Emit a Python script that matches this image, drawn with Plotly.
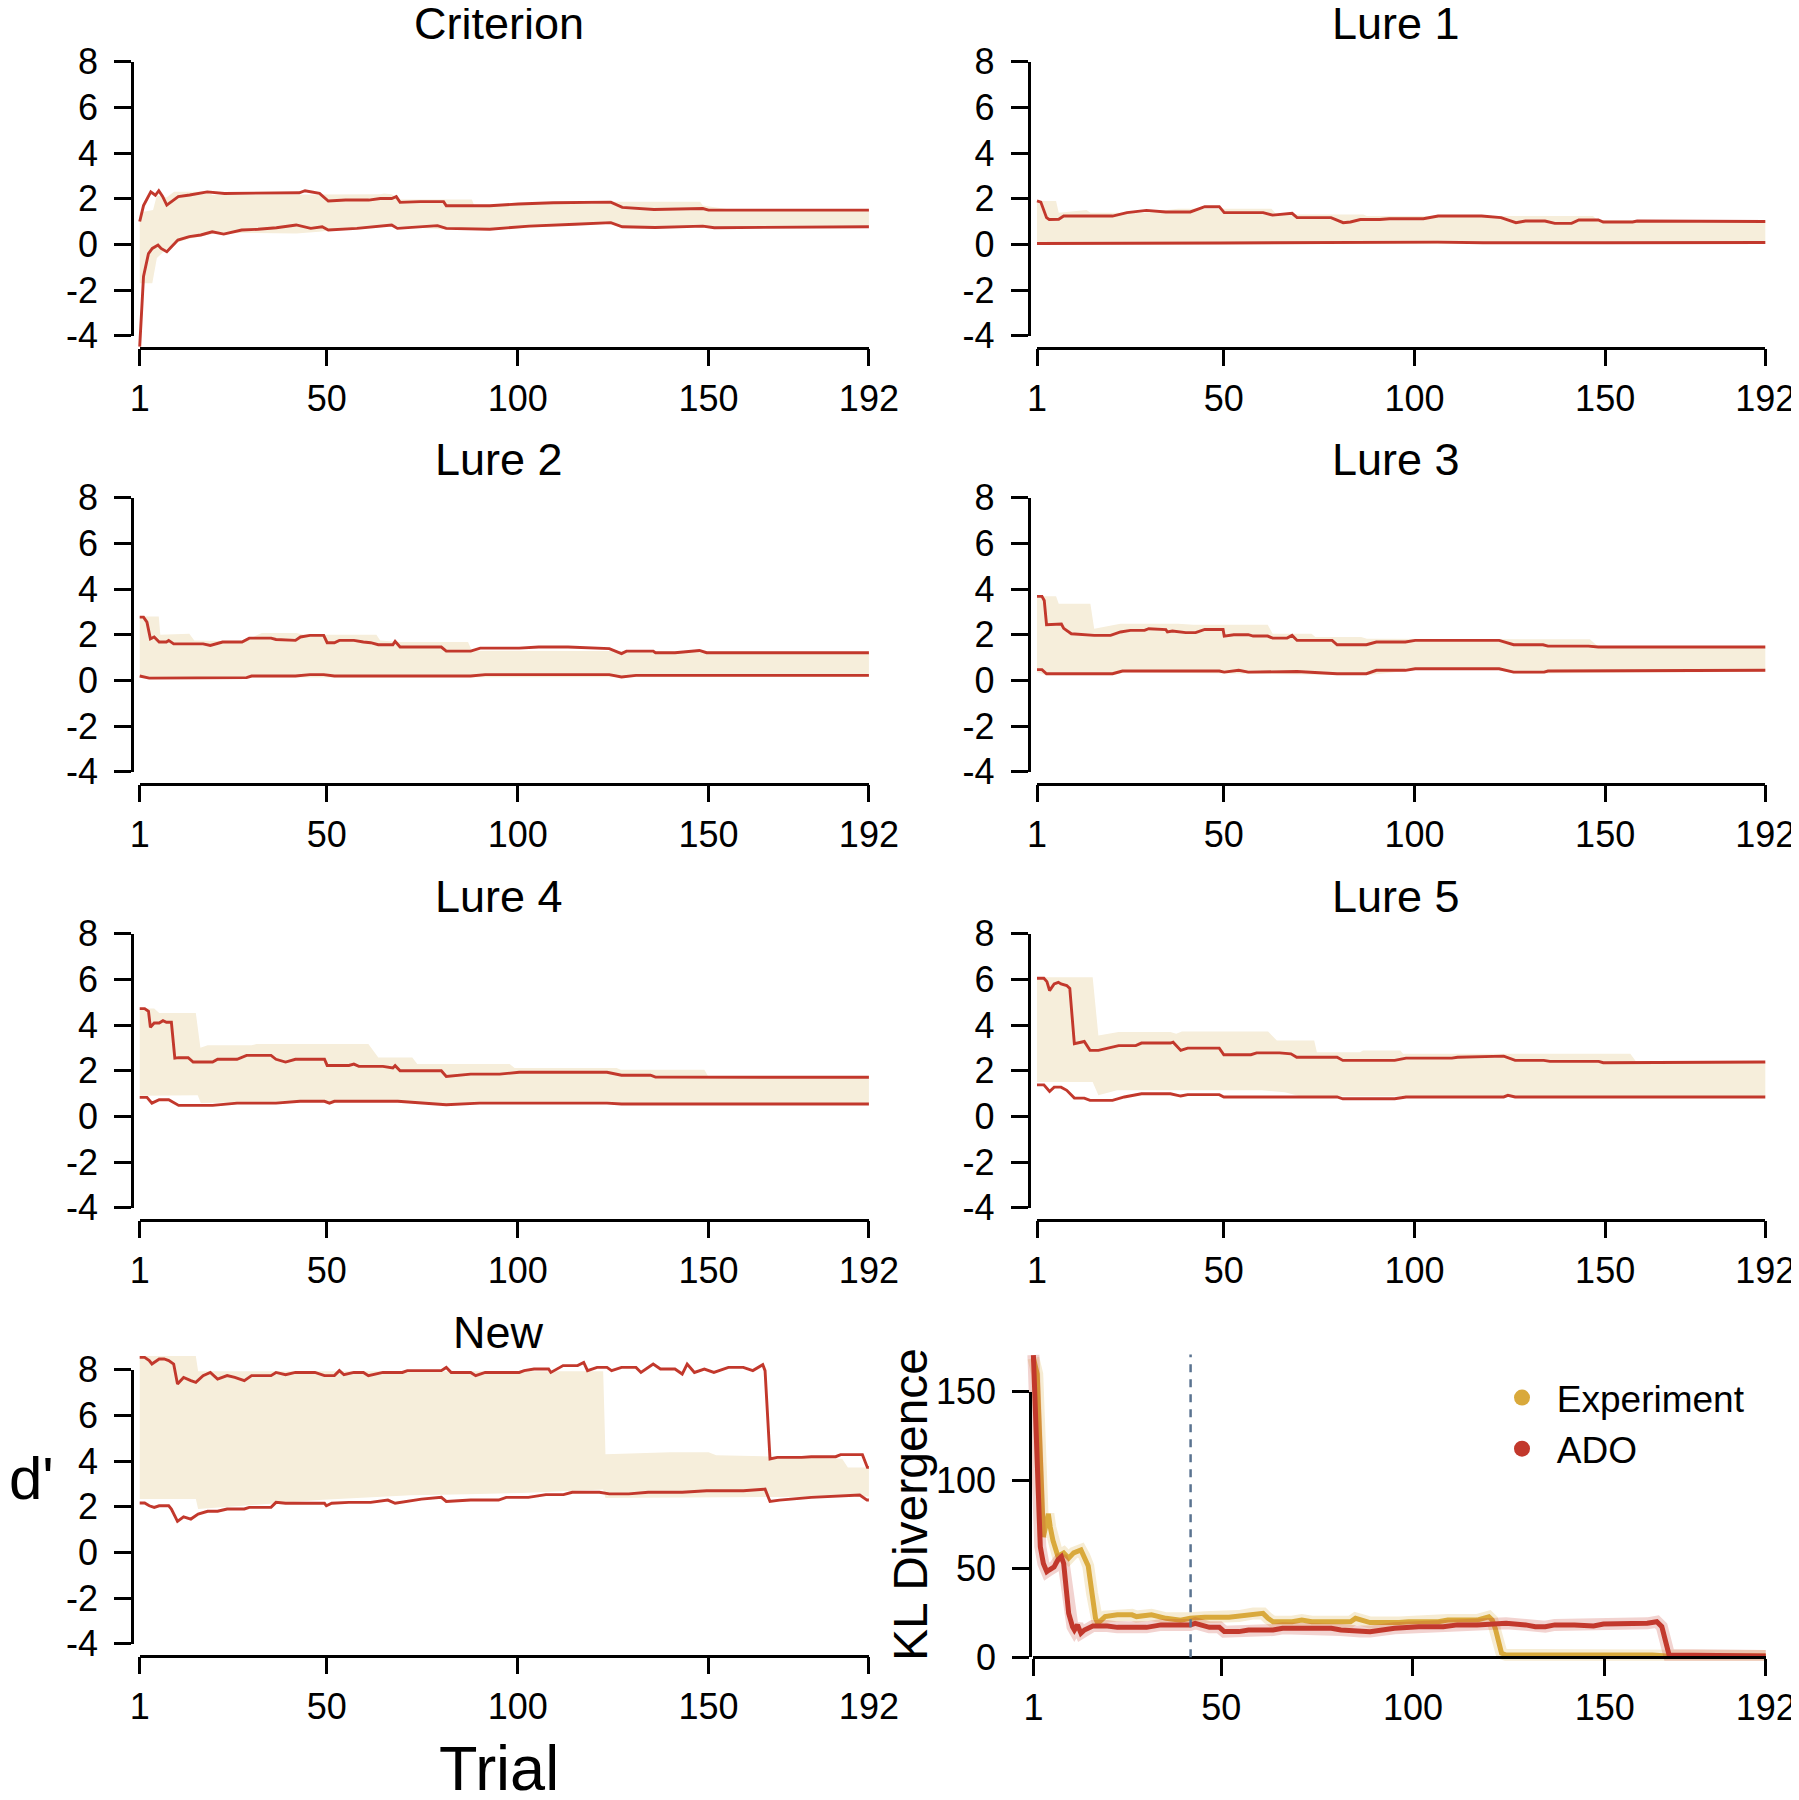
import plotly.graph_objects as go

# page body has an 8px margin: figure is sized to fill the rest of the 1799x1800 window
OFF = 8
W, H = 1799 - OFF, 1800 - OFF
RED = '#C2382C'
BEIGE = '#F6EEDB'
GOLD = '#D9A93B'
DASHC = '#5A7390'
FONT = 'Liberation Sans, Arial, Helvetica, sans-serif'

TRIAL_TICKS = [1, 50, 100, 150, 192]
DPRIME_TICKS = [-4, -2, 0, 2, 4, 6, 8]
KL_TICKS = [0, 50, 100, 150]
PANEL_TITLES = ['Criterion', 'Lure 1', 'Lure 2', 'Lure 3', 'Lure 4', 'Lure 5', 'New']
LEGEND_NAMES = ['Experiment', 'ADO']
KL_DASH_TRIAL = 42

# ---- (trial, d') readings: ADO interval (red lines), Experiment interval (band) ----
CRIT_ADO_HI = [(1, 1.0), (2, 1.7), (3.9, 2.3), (5.1, 2.15), (6, 2.35), (7, 2.1), (8.1, 1.72), (9.5, 1.9), (11.1, 2.09),
               (14.1, 2.16), (18.7, 2.3), (23.2, 2.23), (26.2, 2.23), (29.2, 2.26), (35, 2.25), (42.8, 2.26), (44.3, 2.35),
               (48.1, 2.23), (50.4, 1.9), (54.9, 1.94), (61, 1.94), (64, 2.01), (67, 2.01), (68.2, 2.09), (69.2, 1.84),
               (74.5, 1.87), (80.6, 1.87), (81.3, 1.69), (92.7, 1.69), (100.2, 1.77), (109.3, 1.82), (124.4, 1.85),
               (127.4, 1.62), (135.7, 1.53), (148.5, 1.57), (150, 1.5), (192, 1.5)]
CRIT_ADO_LO = [(1, -4.48), (2, -1.4), (3.3, -0.4), (4.3, -0.18), (5.8, -0.03), (6.6, -0.18), (8.1, -0.32), (11, 0.19),
               (14, 0.34), (17, 0.41), (20, 0.55), (23, 0.45), (27.7, 0.63), (32, 0.66), (36.8, 0.73), (42, 0.85),
               (45.8, 0.7), (48.8, 0.77), (50.4, 0.63), (57.9, 0.7), (67, 0.85), (68.5, 0.7), (79, 0.82), (81.3, 0.7),
               (92.7, 0.66), (103, 0.8), (115, 0.88), (124.4, 0.95), (127.4, 0.77), (136, 0.74), (148.5, 0.8),
               (151.5, 0.73), (192, 0.77)]
CRIT_EXP_HI = [(1, 1.4), (4.5, 1.5), (5.5, 2.15), (8, 2.05), (10, 2.3), (19, 2.3), (20, 2.16), (48, 2.16), (50.4, 2.19),
               (64, 2.19), (65, 2.23), (67, 2.2), (69, 1.97), (88, 1.97), (88.6, 1.72), (124.4, 1.8), (125, 1.87),
               (147.8, 1.87), (148.5, 1.7), (156, 1.52), (192, 1.5)]
CRIT_EXP_LO = [(1, -1.7), (4.3, -1.7), (5.5, -0.6), (8, -0.2), (11, 0.1), (14, 0.25), (20, 0.45), (27, 0.5), (36, 0.5),
               (42, 0.48), (48, 0.55), (50, 0.6), (67, 0.8), (81, 0.65), (92, 0.62), (115, 0.85), (124, 0.9),
               (127, 0.75), (192, 0.75)]

L1_ADO_HI = [(1, 1.9), (2, 1.85), (3.5, 1.17), (4.2, 1.09), (6.7, 1.1), (8, 1.24), (20.8, 1.24), (24.6, 1.39), (29.7, 1.49),
             (34.8, 1.42), (41.2, 1.42), (45, 1.65), (48.8, 1.65), (50.1, 1.39), (60.3, 1.39), (62.8, 1.28), (67.9, 1.36),
             (69.2, 1.17), (78.1, 1.17), (81.3, 0.95), (83.2, 0.98), (85.8, 1.09), (90.9, 1.09), (93.4, 1.12),
             (102.3, 1.12), (106.2, 1.24), (117.6, 1.24), (122.7, 1.17), (126.6, 0.95), (129.1, 1.02), (134.2, 1.02),
             (136.8, 0.92), (141.2, 0.92), (143.1, 1.07), (148.2, 1.07), (149.5, 0.98), (157.2, 0.98), (158.4, 1.02),
             (192, 1.0)]
L1_ADO_LO = [(1, 0.04), (45, 0.08), (49, 0.06), (106, 0.1), (118, 0.07), (150, 0.07), (192, 0.08)]
L1_EXP_HI = [(1, 1.9), (6, 1.9), (6.7, 1.39), (14, 1.5), (15, 1.39), (29, 1.39), (38, 1.56), (62.5, 1.56), (63.8, 1.31),
             (86.6, 1.31), (87.5, 1.24), (146.8, 1.24), (148, 1.07), (192, 1.02)]
L1_EXP_LO = [(1, 0.0), (192, 0.02)]

L2_ADO_HI = [(1, 2.77), (2, 2.77), (2.9, 2.55), (3.8, 1.82), (4.8, 1.9), (6.1, 1.68), (8, 1.68), (8.6, 1.75), (9.9, 1.6),
             (17.6, 1.6), (19.5, 1.53), (22.7, 1.68), (27.8, 1.68), (29.7, 1.85), (35.4, 1.85), (36.7, 1.79),
             (41.8, 1.75), (43.1, 1.9), (45.6, 1.97), (49.2, 1.97), (50.1, 1.65), (52, 1.65), (53.3, 1.75), (57.1, 1.75),
             (59.6, 1.68), (61.5, 1.65), (63.5, 1.56), (67.3, 1.56), (67.9, 1.71), (69.2, 1.46), (80, 1.46),
             (81.3, 1.28), (87.7, 1.28), (90.2, 1.41), (100.4, 1.41), (105.5, 1.46), (113.2, 1.46), (120.8, 1.39),
             (124, 1.39), (127.2, 1.17), (128.5, 1.28), (135.5, 1.28), (136.1, 1.21), (141.2, 1.21), (147.6, 1.31),
             (149.5, 1.21), (192, 1.21)]
L2_ADO_LO = [(1, 0.19), (3.5, 0.1), (29, 0.12), (30.3, 0.19), (41.8, 0.19), (45.6, 0.25), (49.2, 0.25), (52, 0.19),
             (87.7, 0.19), (91.5, 0.25), (124, 0.25), (127.2, 0.15), (131, 0.22), (192, 0.22)]
L2_EXP_HI = [(1, 2.8), (6, 2.8), (6.4, 2.0), (14, 2.04), (15.3, 1.75), (28, 1.7), (33, 2.07), (42, 2.07), (44, 2.0),
             (63, 2.0), (64, 1.75), (69.2, 1.68), (87, 1.68), (88, 1.3), (192, 1.25)]
L2_EXP_LO = [(1, 0.12), (192, 0.15)]

L3_ADO_HI = [(1, 3.68), (2.3, 3.68), (2.9, 3.5), (3.5, 2.44), (7.4, 2.47), (8, 2.28), (10, 2.04), (16, 1.97),
             (20.3, 1.97), (22.9, 2.12), (25.5, 2.19), (29.2, 2.19), (30.3, 2.26), (34.8, 2.22), (35.2, 2.12),
             (36.5, 2.16), (40, 2.09), (42.6, 2.09), (45, 2.23), (49.8, 2.23), (50.1, 1.94), (52.6, 2.0), (56.4, 2.0),
             (57.7, 1.94), (61.5, 1.94), (62.8, 1.85), (66.6, 1.85), (67.9, 1.97), (69.2, 1.75), (78.4, 1.75),
             (79.7, 1.56), (87.4, 1.56), (90, 1.68), (97.6, 1.68), (100.2, 1.75), (122.2, 1.75), (126, 1.56),
             (133.7, 1.56), (135, 1.5), (145.6, 1.5), (148.2, 1.46), (192, 1.46)]
L3_ADO_LO = [(1, 0.47), (2.3, 0.47), (3.5, 0.29), (20.8, 0.29), (23.4, 0.41), (48.8, 0.41), (50.1, 0.36), (53.9, 0.44),
             (56.4, 0.36), (67.9, 0.36), (69.2, 0.39), (79.7, 0.29), (87.4, 0.29), (90, 0.44), (97.6, 0.44),
             (100.2, 0.51), (122.2, 0.51), (126, 0.36), (134, 0.36), (135, 0.41), (147, 0.41), (148.2, 0.44), (192, 0.44)]
L3_EXP_HI = [(1, 3.68), (6, 3.68), (6.7, 3.36), (15, 3.36), (16, 2.26), (18, 2.33), (22.9, 2.48), (38, 2.48), (42, 2.44),
             (61.5, 2.44), (62.8, 2.04), (73, 2.04), (74, 1.9), (86, 1.9), (87.5, 1.82), (146, 1.8), (148, 1.5),
             (192, 1.48)]
L3_EXP_LO = [(1, 0.35), (3.5, 0.22), (21, 0.22), (24, 0.36), (80, 0.24), (88, 0.24), (100, 0.45), (122, 0.45),
             (126, 0.3), (192, 0.38)]

L4_ADO_HI = [(1, 4.72), (2.3, 4.72), (3.3, 4.6), (3.8, 3.9), (4.8, 4.09), (6.1, 4.09), (7.1, 4.19), (8, 4.12), (9.3, 4.12),
             (10.2, 2.55), (11.2, 2.57), (13.7, 2.57), (15, 2.38), (20.1, 2.38), (21.4, 2.5), (26.5, 2.5), (29, 2.67),
             (35.4, 2.67), (36.7, 2.5), (39.2, 2.38), (41.8, 2.5), (49.4, 2.5), (50.1, 2.23), (55.8, 2.23),
             (57.1, 2.29), (58.4, 2.19), (64.7, 2.19), (67.3, 2.12), (67.9, 2.22), (69.2, 2.0), (80, 2.0), (81.3, 1.75),
             (87.7, 1.85), (95.3, 1.85), (100.4, 1.93), (123.4, 1.93), (127.2, 1.8), (134.8, 1.8), (136.1, 1.72),
             (147.6, 1.72), (148.9, 1.71), (192, 1.71)]
L4_ADO_LO = [(1, 0.83), (2.9, 0.83), (4.2, 0.58), (6.1, 0.73), (8.6, 0.73), (11.2, 0.48), (20.1, 0.48), (26.5, 0.58),
             (36.7, 0.58), (43, 0.66), (49.4, 0.66), (50.7, 0.58), (52, 0.66), (68.6, 0.66), (81.3, 0.51), (90, 0.58),
             (123.4, 0.58), (127.2, 0.54), (192, 0.54)]
L4_EXP_HI = [(1, 4.72), (4.8, 4.72), (6.1, 4.53), (15.7, 4.53), (16.9, 3.0), (18.8, 3.11), (30.3, 3.11), (31.6, 3.17),
             (60.9, 3.17), (63.5, 2.58), (72.4, 2.58), (73.7, 2.29), (97.9, 2.29), (99.2, 2.12), (125.9, 2.12),
             (127, 2.04), (148.9, 2.04), (150, 1.72), (192, 1.71)]
L4_EXP_LO = [(1, 0.9), (16.2, 0.92), (17, 0.58), (30, 0.62), (60, 0.66), (80, 0.55), (192, 0.58)]

L5_ADO_HI = [(1, 6.05), (2.8, 6.05), (3.6, 5.9), (4.3, 5.51), (5.5, 5.8), (6.6, 5.87), (7.3, 5.8), (8.8, 5.73),
             (9.6, 5.6), (10.8, 3.18), (13.4, 3.28), (14.9, 2.89), (17.1, 2.89), (19.4, 2.99), (22.4, 3.1), (26.9, 3.1),
             (28.4, 3.21), (36, 3.21), (36.7, 3.25), (38.7, 2.89), (40.5, 2.99), (48.8, 2.99), (50, 2.7), (57.1, 2.7),
             (58.6, 2.78), (64.6, 2.78), (67.6, 2.74), (69.1, 2.59), (79.7, 2.59), (81.2, 2.45), (94.8, 2.45),
             (97.8, 2.55), (109.8, 2.55), (111.3, 2.59), (123.4, 2.64), (126.4, 2.45), (133.9, 2.45), (135.5, 2.41),
             (148.3, 2.41), (149.5, 2.35), (192, 2.38)]
L5_ADO_LO = [(1, 1.38), (2.8, 1.38), (4.3, 1.09), (5.5, 1.28), (7.3, 1.28), (8.8, 1.14), (10.8, 0.8), (13.4, 0.8),
             (14.9, 0.7), (20.8, 0.7), (23.9, 0.85), (28.4, 0.99), (36, 0.99), (38.7, 0.89), (40.5, 0.95), (48.8, 0.95),
             (50, 0.85), (79.7, 0.85), (81.2, 0.77), (94.8, 0.77), (97.8, 0.85), (123.4, 0.85), (124.5, 0.92),
             (126.4, 0.85), (192, 0.85)]
L5_EXP_HI = [(1, 6.09), (15.6, 6.09), (17.1, 3.54), (22.4, 3.69), (36, 3.69), (37.5, 3.62), (39, 3.72), (61.6, 3.72),
             (63.9, 3.32), (73.7, 3.32), (74.4, 2.81), (85.7, 2.81), (86.5, 2.89), (96.3, 2.89), (97, 2.74),
             (156.6, 2.74), (158, 2.42), (192, 2.38)]
L5_EXP_LO = [(1, 1.5), (15.6, 1.5), (17.1, 0.92), (22, 1.14), (60, 1.14), (66, 1.06), (70, 0.88), (192, 0.88)]

NEW_ADO_HI = [(1, 8.54), (2.3, 8.54), (3.5, 8.4), (4.2, 8.25), (6.1, 8.47), (7.4, 8.47), (8.6, 8.4), (9.9, 8.25),
              (10.9, 7.37), (12.5, 7.66), (14.4, 7.52), (15.7, 7.45), (17.6, 7.74), (19.5, 7.88), (21.4, 7.59),
              (23.9, 7.74), (25.9, 7.66), (28.4, 7.52), (30.3, 7.74), (35.4, 7.74), (36.7, 7.88), (39.2, 7.78),
              (41.8, 7.88), (46.9, 7.88), (49.4, 7.74), (52, 7.74), (53.3, 7.96), (54.5, 7.78), (57.1, 7.88),
              (59.6, 7.88), (60.9, 7.74), (64.7, 7.88), (69.8, 7.88), (71.1, 7.96), (80, 7.96), (81.3, 8.1),
              (82.6, 7.88), (87.7, 7.88), (89, 7.74), (91.5, 7.88), (100.4, 7.88), (101.7, 7.96), (104.3, 8.03),
              (108.1, 8.03), (108.7, 7.88), (111.9, 8.18), (115.7, 8.18), (117.3, 8.32), (118.3, 7.96), (120.8, 8.1),
              (123.4, 8.1), (124.6, 7.96), (127.2, 8.1), (131, 8.1), (132.3, 7.88), (135.5, 8.25), (137.4, 8.03),
              (141.2, 8.03), (143.1, 7.81), (144.4, 8.25), (146.3, 7.88), (148.9, 8.03), (151.4, 7.88), (155.2, 8.1),
              (159.1, 8.1), (161.6, 7.96), (164.2, 8.22), (164.8, 7.96), (166.1, 4.09), (168, 4.16), (174.4, 4.16),
              (176.9, 4.19), (183.3, 4.19), (184.6, 4.28), (190.3, 4.28), (191.6, 3.72), (192, 3.72)]
NEW_ADO_LO = [(1, 2.16), (2.3, 2.16), (3.5, 2.04), (4.8, 1.97), (6.1, 2.04), (8.6, 2.04), (9.3, 1.9), (10.9, 1.36),
              (12.5, 1.56), (14.4, 1.46), (16.3, 1.68), (18.8, 1.8), (21.4, 1.8), (23.9, 1.9), (28.4, 1.9), (29.7, 1.97),
              (35.4, 1.97), (36.7, 2.19), (39.2, 2.15), (49.4, 2.15), (49.9, 2.04), (51.3, 2.15), (55.8, 2.19),
              (61.5, 2.19), (66, 2.29), (67.9, 2.15), (74.8, 2.33), (80, 2.41), (81.3, 2.23), (87.7, 2.29), (95, 2.29),
              (97, 2.41), (102.8, 2.41), (107.4, 2.53), (112, 2.53), (114.3, 2.63), (121.4, 2.63), (124, 2.56),
              (129.1, 2.56), (134.2, 2.63), (143.1, 2.63), (149.5, 2.7), (159.1, 2.7), (161.6, 2.74), (164.8, 2.77),
              (166.1, 2.23), (168.6, 2.29), (176.9, 2.41), (189.6, 2.51), (191.5, 2.29), (192, 2.29)]
NEW_EXP_HI = [(1, 8.6), (15.7, 8.6), (16.3, 7.93), (122.4, 7.93), (123, 4.3), (140, 4.38), (150, 4.38), (152, 4.25),
              (166, 4.2), (185, 4.1), (186.5, 3.72), (192, 3.72)]
NEW_EXP_LO = [(1, 2.34), (15.7, 2.34), (16.3, 1.9), (23, 2.0), (36, 2.15), (49, 2.3), (72, 2.5), (87, 2.55), (101, 2.6),
              (122.4, 2.75), (123, 2.38), (192, 2.45)]

# ---- KL divergence (trial, KL) ----
KL_EXP = [(1, 169), (2, 160), (3.6, 68), (4.9, 81), (5.4, 73.5), (6.1, 66), (7.4, 57), (8.9, 59), (10.2, 56), (11.5, 59),
          (13.4, 60.6), (14.3, 57), (15.3, 51.6), (16.3, 36), (17.2, 22), (17.8, 19.2), (19.7, 23), (22.9, 24),
          (26.7, 24), (27.9, 23), (31.8, 24), (35.6, 22), (39.4, 21), (41.9, 22), (45.7, 22.6), (52, 22.6),
          (54.6, 23.3), (58.4, 24.8), (60.9, 24.8), (62.2, 22), (63.5, 20.1), (68.5, 20.1), (71, 21), (73.6, 20.1),
          (83.7, 20.1), (85, 22), (88.8, 19.6), (96.4, 19.6), (98.9, 20.1), (106.6, 20.1), (109.1, 21), (116.7, 21),
          (119.8, 22.9), (120.7, 21), (121.5, 16), (123.1, 2.3), (124.3, 1.3), (162.4, 1.3), (166.2, 0.75), (192, 0.75)]
KL_ADO = [(1, 170.7), (1.7, 122.7), (2.2, 85), (2.8, 62.5), (3.6, 53), (4.5, 48.4), (5.1, 49.3), (6.4, 51), (7.4, 55),
          (8.3, 56.8), (8.9, 53), (9.6, 40), (10.2, 24.8), (11.2, 17.3), (11.7, 15.4), (12.5, 18.3), (13.4, 13.6),
          (14.3, 15.4), (16.5, 17.7), (20.3, 17.7), (22.9, 16.9), (30.5, 16.9), (34.3, 18.3), (41.9, 18.3),
          (43.2, 19.2), (46.9, 16.9), (49.5, 16.9), (50.8, 14.5), (54.6, 14.5), (57.1, 15.4), (63.5, 15.4), (66, 16.4),
          (78.7, 16.4), (81.2, 15.4), (86.3, 14.5), (88.8, 14.5), (95.2, 16.4), (101.5, 17.3), (107.9, 17.3),
          (111.6, 18.3), (116.7, 18.3), (121.8, 19.2), (124.3, 19.2), (129.4, 18.3), (131.9, 17.3), (134.5, 17.3),
          (137, 18.3), (142.1, 18.3), (147.1, 17.7), (149.7, 18.8), (153.5, 18.8), (157.3, 19.2), (161.1, 19.2),
          (163.6, 20.1), (164.9, 17.3), (166.8, 1.3), (192, 0.75)]

PANELS = [
    (CRIT_ADO_HI, CRIT_ADO_LO, CRIT_EXP_HI, CRIT_EXP_LO),
    (L1_ADO_HI, L1_ADO_LO, L1_EXP_HI, L1_EXP_LO),
    (L2_ADO_HI, L2_ADO_LO, L2_EXP_HI, L2_EXP_LO),
    (L3_ADO_HI, L3_ADO_LO, L3_EXP_HI, L3_EXP_LO),
    (L4_ADO_HI, L4_ADO_LO, L4_EXP_HI, L4_EXP_LO),
    (L5_ADO_HI, L5_ADO_LO, L5_EXP_HI, L5_EXP_LO),
    (NEW_ADO_HI, NEW_ADO_LO, NEW_EXP_HI, NEW_EXP_LO),
]

# ---- layout geometry (window pixels) ----
COL_X1 = [139.7, 1037.0]
COL_X192 = [868.9, 1765.3]
COL_YAX = [132.0, 1028.5]
ROW_STEP = 436.0
Y8_0, YM4_0, XAX_0 = 61.7, 335.7, 347.7
TICK_FS = 36
TITLE_FS = 45


def xf(px):
    return (px - OFF) / W


def yf(px):
    return 1 - (px - OFF) / H


def ax(i):
    return '' if i == 1 else str(i)


def xs(pts):
    return [p[0] for p in pts]


def ys(pts):
    return [p[1] for p in pts]


fig = go.Figure()
layout = {}
annotations = []

axis_style = dict(showline=True, linecolor='black', linewidth=2.5, ticks='outside', ticklen=17, tickwidth=2.5,
                  tickcolor='black', showgrid=False, zeroline=False, automargin=False,
                  tickfont=dict(size=TICK_FS, color='black', family=FONT))

for p, (ahi, alo, ehi, elo) in enumerate(PANELS):
    col, row = p % 2, p // 2
    d, a = 2 * p + 1, 2 * p + 2
    x1, x192 = COL_X1[col], COL_X192[col]
    ppt = (x192 - x1) / 191
    y8, ym4, xax = Y8_0 + ROW_STEP * row, YM4_0 + ROW_STEP * row, XAX_0 + ROW_STEP * row
    ppu = (ym4 - y8) / 12

    bx = xs(ehi) + xs(elo)[::-1]
    by = ys(ehi) + ys(elo)[::-1]
    fig.add_trace(go.Scatter(x=bx, y=by, mode='lines', fill='toself', fillcolor=BEIGE, line=dict(width=0),
                             xaxis='x' + ax(d), yaxis='y' + ax(d), showlegend=False, hoverinfo='skip'))
    for ser in (ahi, alo):
        fig.add_trace(go.Scatter(x=xs(ser), y=ys(ser), mode='lines', line=dict(color=RED, width=2.9),
                                 xaxis='x' + ax(d), yaxis='y' + ax(d), showlegend=False))
    fig.add_trace(go.Scatter(x=[None], y=[None], mode='lines', xaxis='x' + ax(a), yaxis='y' + ax(a),
                             showlegend=False, hoverinfo='skip'))

    layout['xaxis' + ax(d)] = dict(domain=[xf(x1 - 2 * ppt), xf(x192 + 2 * ppt)], range=[-1, 194], visible=False,
                                   anchor='y' + ax(d), fixedrange=True, automargin=False)
    layout['yaxis' + ax(d)] = dict(domain=[yf(ym4 + 0.7 * ppu), yf(y8 - 0.8 * ppu)], range=[-4.7, 8.8],
                                   visible=False, anchor='x' + ax(d), fixedrange=True, automargin=False)
    layout['xaxis' + ax(a)] = dict(domain=[xf(x1), xf(x192)], range=[1, 192], anchor='free', position=yf(xax),
                                   tickvals=TRIAL_TICKS, ticktext=[str(t) for t in TRIAL_TICKS],
                                   ticklabelstandoff=1, **axis_style)
    layout['yaxis' + ax(a)] = dict(domain=[yf(ym4), yf(y8)], range=[-4, 8], anchor='free', position=xf(COL_YAX[col]),
                                   tickvals=DPRIME_TICKS, ticktext=[str(t) for t in DPRIME_TICKS],
                                   ticklabelstandoff=9, **axis_style)
    annotations.append(dict(text=PANEL_TITLES[p], x=xf((x1 + x192) / 2 - 5.5), y=yf(24 + ROW_STEP * row),
                            xref='paper', yref='paper', xanchor='center', yanchor='middle', showarrow=False,
                            font=dict(size=TITLE_FS, color='black', family=FONT)))

# ---- KL panel ----
d, a = 15, 16
KX1, KX192, KYAX = 1033.4, 1765.7, 1030.0
KY0, KY150 = 1657.3, 1391.7
kppt = (KX192 - KX1) / 191
kppu = (KY0 - KY150) / 150
for ser, colr in ((KL_EXP, GOLD), (KL_ADO, RED)):
    fig.add_trace(go.Scatter(x=xs(ser), y=ys(ser), mode='lines', line=dict(color=colr, width=12), opacity=0.22,
                             xaxis='x' + ax(d), yaxis='y' + ax(d), showlegend=False, hoverinfo='skip'))
    fig.add_trace(go.Scatter(x=xs(ser), y=ys(ser), mode='lines', line=dict(color=colr, width=5),
                             xaxis='x' + ax(d), yaxis='y' + ax(d), showlegend=False))
for name, colr in zip(LEGEND_NAMES, (GOLD, RED)):
    fig.add_trace(go.Scatter(x=[None], y=[None], mode='markers', name='\u2009\u2009' + name,
                             marker=dict(color=colr, size=18), xaxis='x' + ax(d), yaxis='y' + ax(d)))
fig.add_trace(go.Scatter(x=[None], y=[None], mode='lines', xaxis='x' + ax(a), yaxis='y' + ax(a),
                         showlegend=False, hoverinfo='skip'))
layout['xaxis' + ax(d)] = dict(domain=[xf(KX1 - 2 * kppt), xf(KX192 + 2 * kppt)], range=[-1, 194], visible=False,
                               anchor='y' + ax(d), fixedrange=True, automargin=False)
layout['yaxis' + ax(d)] = dict(domain=[yf(KY0 + 2 * kppu), yf(KY0 - 174 * kppu)], range=[-2, 174], visible=False,
                               anchor='x' + ax(d), fixedrange=True, automargin=False)
layout['xaxis' + ax(a)] = dict(domain=[xf(KX1), xf(KX192)], range=[1, 192], anchor='free', position=yf(KY0),
                               tickvals=TRIAL_TICKS, ticktext=[str(t) for t in TRIAL_TICKS],
                               ticklabelstandoff=1, **axis_style)
layout['yaxis' + ax(a)] = dict(domain=[yf(KY0), yf(KY150)], range=[0, 150], anchor='free', position=xf(KYAX),
                               tickvals=KL_TICKS, ticktext=[str(t) for t in KL_TICKS],
                               ticklabelstandoff=9, **axis_style)

fig.add_shape(type='line', xref='x' + ax(d), yref='y' + ax(d), x0=KL_DASH_TRIAL, x1=KL_DASH_TRIAL, y0=0, y1=171,
              line=dict(color=DASHC, width=2.5, dash='8px,7px'))

annotations += [
    dict(text="d'", x=xf(7), y=yf(1478), xref='paper', yref='paper', xanchor='left', yanchor='middle',
         showarrow=False, font=dict(size=60, color='black', family=FONT)),
    dict(text='Trial', x=xf(499), y=yf(1768), xref='paper', yref='paper', xanchor='center', yanchor='middle',
         showarrow=False, font=dict(size=63, color='black', family=FONT)),
    dict(text='KL Divergence', x=xf(910), y=yf(1505), xref='paper', yref='paper', xanchor='center',
         yanchor='middle', textangle=-90, showarrow=False, font=dict(size=48, color='black', family=FONT)),
]

fig.update_layout(
    template='none',
    width=W, height=H, margin=dict(l=0, r=0, t=0, b=0, autoexpand=False), autosize=False,
    paper_bgcolor='white', plot_bgcolor='rgba(0,0,0,0)',
    font=dict(family=FONT, color='black'),
    annotations=annotations,
    showlegend=True,
    legend=dict(x=xf(1502), y=yf(1367), xanchor='left', yanchor='top', bgcolor='rgba(0,0,0,0)', borderwidth=0,
                font=dict(size=37, color='black', family=FONT), itemsizing='trace', tracegroupgap=0),
    **layout,
)

fig.write_html('out.html')
